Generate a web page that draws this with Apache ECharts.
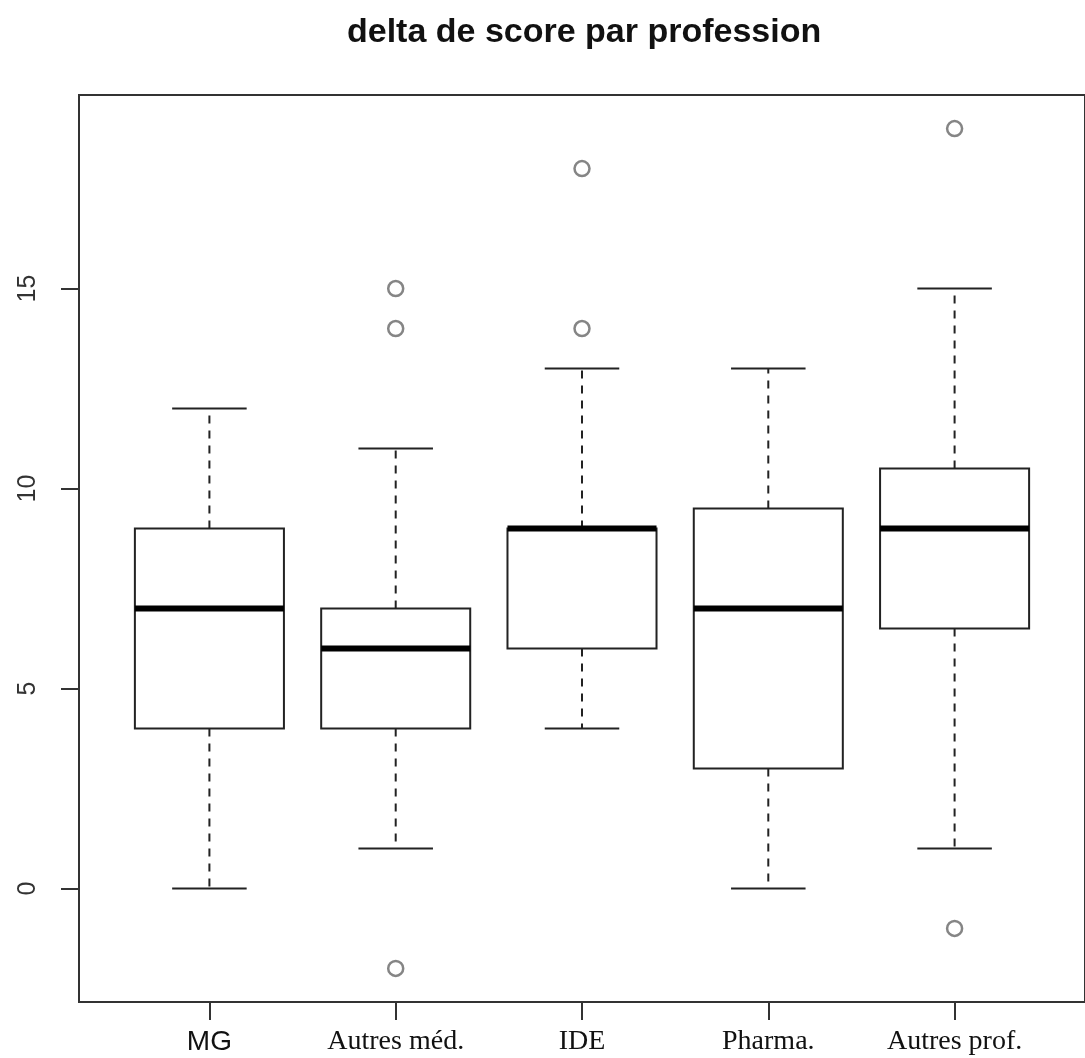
<!DOCTYPE html>
<html>
<head>
<meta charset="utf-8">
<script src="https://cdn.jsdelivr.net/npm/echarts@6/dist/echarts.min.js"></script>
<style>html,body{margin:0;padding:0;background:#fff;}#c{width:1085px;height:1058px;}</style>
</head>
<body>
<div id="c"></div>
<script>
const categories = ['MG', 'Autres méd.', 'IDE', 'Pharma.', 'Autres prof.'];
const whiskerLow = [0, 1, 4, 0, 1];
const q1 = [4, 4, 6, 3, 6.5];
const median = [7, 6, 9, 7, 9];
const q3 = [9, 7, 9, 9.5, 10.5];
const whiskerHigh = [12, 11, 13, 13, 15];
const outlierGroup = [2, 2, 2, 3, 3, 5, 5];
const outlierValue = [15, 14, -2, 18, 14, 19, -1];
const yTicks = [0, 5, 10, 15];
const xTicks = [1, 2, 3, 4, 5];

const boxData = categories.map((c, i) => [i + 1, whiskerLow[i], q1[i], median[i], q3[i], whiskerHigh[i]]);
const outlierData = outlierGroup.map((g, i) => [g, outlierValue[i]]);

const chart = echarts.init(document.getElementById('c'));

function renderBox(params, api) {
  const x = api.value(0);
  const pLow = api.coord([x, api.value(1)]);
  const pQ1 = api.coord([x, api.value(2)]);
  const pMed = api.coord([x, api.value(3)]);
  const pQ3 = api.coord([x, api.value(4)]);
  const pHigh = api.coord([x, api.value(5)]);
  const half = api.size([0.4, 0])[0];
  const capHalf = api.size([0.2, 0])[0];
  const cx = pMed[0];
  const solid = { stroke: '#222', lineWidth: 2, fill: null };
  const dashed = { stroke: '#222', lineWidth: 2, lineDash: [8, 7], fill: null };
  return {
    type: 'group',
    children: [
      { type: 'line', shape: { x1: cx, y1: pQ3[1], x2: cx, y2: pHigh[1] }, style: dashed },
      { type: 'line', shape: { x1: cx, y1: pQ1[1], x2: cx, y2: pLow[1] }, style: dashed },
      { type: 'line', shape: { x1: cx - capHalf, y1: pHigh[1], x2: cx + capHalf, y2: pHigh[1] }, style: solid },
      { type: 'line', shape: { x1: cx - capHalf, y1: pLow[1], x2: cx + capHalf, y2: pLow[1] }, style: solid },
      { type: 'rect', shape: { x: cx - half, y: pQ3[1], width: half * 2, height: pQ1[1] - pQ3[1] }, style: { stroke: '#222', lineWidth: 2, fill: '#fff' } },
      { type: 'line', shape: { x1: cx - half, y1: pMed[1], x2: cx + half, y2: pMed[1] }, style: { stroke: '#000', lineWidth: 6 } }
    ]
  };
}

chart.setOption({
  animation: false,
  backgroundColor: '#fff',
  title: {
    text: 'delta de score par profession',
    left: 342,
    top: 11,
    textStyle: { fontFamily: 'Liberation Sans', fontWeight: 'bold', fontSize: 34, color: '#111' }
  },
  grid: { left: 79, top: 95, right: -4, bottom: 56, show: true, borderColor: '#333', borderWidth: 2, backgroundColor: 'transparent' },
  xAxis: {
    type: 'value',
    min: 0.3,
    max: 5.7,
    splitLine: { show: false },
    axisLine: { show: false, onZero: false },
    axisTick: { show: true, customValues: xTicks, length: 18, inside: false, lineStyle: { color: '#333', width: 2 } },
    axisLabel: {
      customValues: xTicks,
      margin: 26,
      formatter: v => {
        const name = categories[Math.round(v) - 1];
        return Math.round(v) === 1 ? '{s|' + name + '}' : '{r|' + name + '}';
      },
      rich: {
        s: { fontFamily: 'Liberation Sans', fontSize: 28, color: '#111' },
        r: { fontFamily: 'Liberation Serif', fontSize: 28, color: '#111' }
      }
    }
  },
  yAxis: {
    type: 'value',
    min: -2.84,
    max: 19.84,
    splitLine: { show: false },
    axisLine: { show: false, onZero: false },
    axisTick: { show: true, customValues: yTicks, length: 18, inside: false, lineStyle: { color: '#333', width: 2 } },
    axisLabel: {
      customValues: yTicks,
      rotate: 90,
      margin: 38,
      fontFamily: 'Liberation Sans',
      fontSize: 25,
      color: '#333'
    }
  },
  series: [
    {
      type: 'custom',
      renderItem: renderBox,
      data: boxData,
      encode: { x: 0, y: [1, 2, 3, 4, 5] },
      z: 2
    },
    {
      type: 'scatter',
      data: outlierData,
      symbol: 'circle',
      symbolSize: 15,
      itemStyle: { color: '#fff', borderColor: '#666', borderWidth: 2.5 },
      z: 3
    }
  ]
});
</script>
</body>
</html>
